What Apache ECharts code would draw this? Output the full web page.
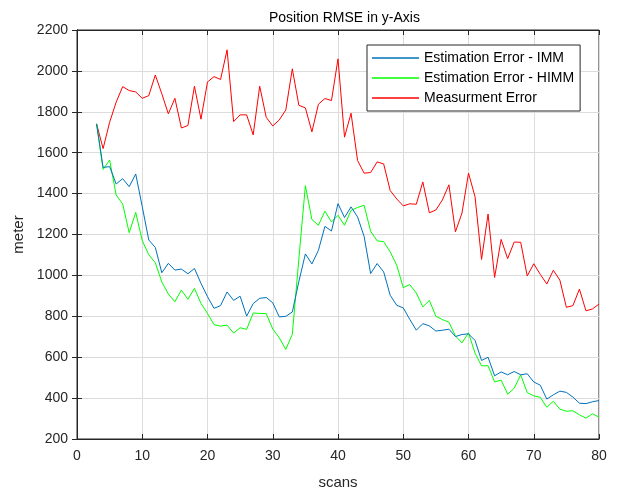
<!DOCTYPE html>
<html>
<head>
<meta charset="utf-8">
<script src="https://cdn.jsdelivr.net/npm/echarts@6/dist/echarts.min.js"></script>
<style>html,body{margin:0;padding:0;background:#fff;}#c{width:618px;height:491px;}</style>
</head>
<body>
<div id="c"></div>
<script>
const scans = [3,4,5,6,7,8,9,10,11,12,13,14,15,16,17,18,19,20,21,22,23,24,25,26,27,28,29,30,31,32,33,34,35,36,37,38,39,40,41,42,43,44,45,46,47,48,49,50,51,52,53,54,55,56,57,58,59,60,61,62,63,64,65,66,67,68,69,70,71,72,73,74,75,76,77,78,79,80];
const immError = [1741,1528,1532,1447,1473,1434,1496,1336,1173,1137,1013,1059,1026,1031,1008,1034,961,896,839,852,919,878,898,801,862,888,892,866,797,800,821,970,1105,1056,1123,1240,1217,1351,1283,1335,1286,1191,1009,1058,1017,903,854,841,785,732,764,753,728,732,737,701,711,714,682,584,600,509,528,514,530,514,519,479,463,395,416,434,428,405,375,373,382,388];
const himmError = [1741,1518,1564,1393,1349,1209,1308,1170,1101,1062,968,909,871,928,883,937,863,814,759,752,757,718,744,736,816,814,813,738,695,638,712,1080,1439,1273,1245,1314,1261,1294,1245,1318,1332,1343,1216,1169,1165,1115,1050,940,955,914,846,878,800,784,771,704,670,719,620,558,558,479,488,419,448,514,427,411,404,355,385,346,336,338,318,302,323,307];
const measError = [1741,1620,1749,1847,1923,1904,1897,1866,1879,1980,1888,1790,1866,1721,1733,1925,1764,1946,1972,1958,2103,1752,1785,1785,1687,1925,1773,1731,1760,1809,2010,1832,1819,1702,1837,1865,1855,2059,1676,1793,1562,1500,1503,1555,1545,1415,1374,1340,1350,1348,1457,1306,1320,1369,1443,1213,1305,1500,1385,1078,1300,990,1176,1082,1163,1162,997,1057,1005,958,1025,977,844,852,933,827,836,860];
const seriesNames = ['Estimation Error - IMM','Estimation Error - HIMM','Measurment Error'];
const xTicks = {min:0, max:80, interval:10};
const yTicks = {min:200, max:2200, interval:200};

const FONT = 'Liberation Sans, Arial, Helvetica, sans-serif';
const pair = arr => scans.map((s,i)=>[s, arr[i]]);
const chart = echarts.init(document.getElementById('c'), null, {renderer:'canvas'});
const gridLine = {show:true, lineStyle:{color:'#dcdcdc', width:1}};
const tick = {show:true, inside:true, length:5, lineStyle:{color:'#262626'}};
const baseX = {type:'value', min:xTicks.min, max:xTicks.max, interval:xTicks.interval};
const baseY = {type:'value', min:yTicks.min, max:yTicks.max, interval:yTicks.interval};
chart.setOption({
  animation:false,
  backgroundColor:'#fff',
  textStyle:{fontFamily:FONT},
  title:{text:'Position RMSE in y-Axis', left:264, top:6,
    textStyle:{fontFamily:FONT, fontSize:14, fontWeight:'normal', color:'#000'}},
  grid:{left:77, right:19, top:30, bottom:52, outerBoundsMode:'none', containLabel:false,
    show:true, borderColor:'#262626', borderWidth:1, backgroundColor:'#fff'},
  legend:{
    orient:'vertical', left:367, top:45,
    data:seriesNames,
    icon:'rect',
    backgroundColor:'#fff', borderColor:'#262626', borderWidth:1,
    padding:[5,6,5,5], itemGap:4, itemWidth:47, itemHeight:1.3,
    textStyle:{fontFamily:FONT, fontSize:14, color:'#000', lineHeight:16, padding:[0,0,0,0]}
  },
  xAxis:[
    Object.assign({}, baseX, {position:'bottom', name:'scans', nameLocation:'middle', nameGap:36,
      nameTextStyle:{fontFamily:FONT, fontSize:15, color:'#262626'},
      axisLine:{show:true, lineStyle:{color:'#262626'}}, axisTick:tick, splitLine:gridLine,
      axisLabel:{fontFamily:FONT, fontSize:14, color:'#262626', margin:10}}),
    Object.assign({}, baseX, {position:'top', axisLine:{show:true, lineStyle:{color:'#262626'}}, axisTick:tick,
      splitLine:{show:false}, axisLabel:{show:false}})
  ],
  yAxis:[
    Object.assign({}, baseY, {position:'left', name:'meter', nameLocation:'middle', nameGap:48,
      nameTextStyle:{fontFamily:FONT, fontSize:15, color:'#262626'},
      axisLine:{show:true, lineStyle:{color:'#262626'}}, axisTick:tick, splitLine:gridLine,
      axisLabel:{fontFamily:FONT, fontSize:14, color:'#262626', margin:9, formatter:v=>String(v)}}),
    Object.assign({}, baseY, {position:'right', axisLine:{show:true, lineStyle:{color:'#262626'}}, axisTick:tick,
      splitLine:{show:false}, axisLabel:{show:false}})
  ],
  series:[
    {name:seriesNames[0], type:'line', data:pair(immError), symbol:'none', z:3,
      lineStyle:{color:'#0072BD', width:1}, itemStyle:{color:'#0072BD'}},
    {name:seriesNames[1], type:'line', data:pair(himmError), symbol:'none', z:2,
      lineStyle:{color:'#00FF00', width:1}, itemStyle:{color:'#00FF00'}},
    {name:seriesNames[2], type:'line', data:pair(measError), symbol:'none', z:1,
      lineStyle:{color:'#FF0000', width:1}, itemStyle:{color:'#FF0000'}}
  ]
});
</script>
</body>
</html>
